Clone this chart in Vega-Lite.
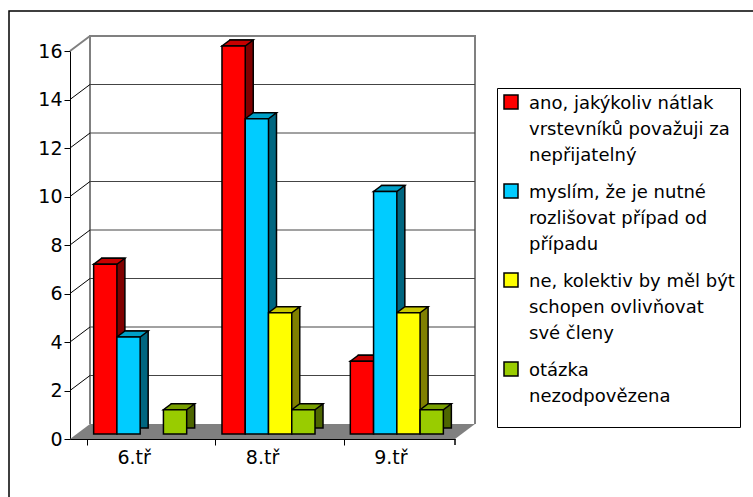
{
  "$schema": "https://vega.github.io/schema/vega-lite/v6.json",
  "width": 405,
  "height": 388,
  "autosize": {"type": "none"},
  "padding": {"left": 70, "top": 51, "right": 278, "bottom": 58},
  "background": "white",
  "config": {
    "view": {"stroke": null},
    "font": "DejaVu Sans",
    "axisY": {"domainColor": "black", "domainWidth": 1, "tickColor": "black", "tickSize": 6, "labelFont": "DejaVu Sans", "labelFontSize": 19, "labelColor": "black", "labelPadding": 2, "grid": false, "title": null, "values": [0, 2, 4, 6, 8, 10, 12, 14, 16]},
    "axisX": {"domainColor": "black", "domainWidth": 1, "tickColor": "black", "tickSize": 6, "labelFont": "DejaVu Sans", "labelFontSize": 19, "labelColor": "black", "labelPadding": 3, "grid": false, "title": null, "labelAngle": 0, "bandPosition": 0}
  },
  "datasets": {
    "bars": [
      {"trida": "6.tř", "odpoved": "ano, jakýkoliv nátlak vrstevníků považuji za nepřijatelný", "pocet": 7},
      {"trida": "6.tř", "odpoved": "myslím, že je nutné rozlišovat případ od případu", "pocet": 4},
      {"trida": "6.tř", "odpoved": "ne, kolektiv by měl být schopen ovlivňovat své členy", "pocet": 0},
      {"trida": "6.tř", "odpoved": "otázka nezodpovězena", "pocet": 1},
      {"trida": "8.tř", "odpoved": "ano, jakýkoliv nátlak vrstevníků považuji za nepřijatelný", "pocet": 16},
      {"trida": "8.tř", "odpoved": "myslím, že je nutné rozlišovat případ od případu", "pocet": 13},
      {"trida": "8.tř", "odpoved": "ne, kolektiv by měl být schopen ovlivňovat své členy", "pocet": 5},
      {"trida": "8.tř", "odpoved": "otázka nezodpovězena", "pocet": 1},
      {"trida": "9.tř", "odpoved": "ano, jakýkoliv nátlak vrstevníků považuji za nepřijatelný", "pocet": 3},
      {"trida": "9.tř", "odpoved": "myslím, že je nutné rozlišovat případ od případu", "pocet": 10},
      {"trida": "9.tř", "odpoved": "ne, kolektiv by měl být schopen ovlivňovat své členy", "pocet": 5},
      {"trida": "9.tř", "odpoved": "otázka nezodpovězena", "pocet": 1}
    ],
    "ticks": [{"v": 2}, {"v": 4}, {"v": 6}, {"v": 8}, {"v": 10}, {"v": 12}, {"v": 14}],
    "one": [{"k": 1}]
  },
  "layer": [
    {
      "data": {"name": "one"},
      "mark": {"type": "point", "shape": "M-202.5,194L182.5,194L202.5,179L-182.5,179Z", "size": 4, "filled": true, "fill": "#808080", "strokeWidth": 0, "opacity": 1},
      "encoding": {}
    },
    {
      "data": {"name": "one"},
      "mark": {"type": "point", "shape": "M-182.5,179L-182.5,-209L202.5,-209L202.5,179M-202.5,-194L-182.5,-209", "size": 4, "filled": false, "color": "#808080", "strokeWidth": 2, "opacity": 1},
      "encoding": {}
    },
    {
      "data": {"name": "ticks"},
      "mark": {"type": "point", "shape": "M-182.5,-15L202.5,-15", "size": 4, "filled": false, "color": "#444444", "strokeWidth": 1, "opacity": 1},
      "encoding": {"y": {"field": "v", "type": "quantitative", "scale": {"domain": [0, 16], "nice": false, "zero": true}}}
    },
    {
      "data": {"name": "ticks"},
      "mark": {"type": "point", "shape": "M-202.5,0L-182.5,-15", "size": 4, "filled": false, "color": "black", "strokeWidth": 1, "opacity": 1},
      "encoding": {"y": {"field": "v", "type": "quantitative"}}
    },
    {
      "data": {"name": "one"},
      "mark": {"type": "point", "shape": "M-263.5,252L-263.5,-234L480.5,-234M182.5,194L182.5,200", "size": 4, "filled": false, "color": "black", "strokeWidth": 1.5, "opacity": 1},
      "encoding": {}
    },
    {
      "data": {"name": "bars"},
      "transform": [{"filter": "datum.pocet > 0"}],
      "mark": {"type": "bar", "stroke": "black", "strokeWidth": 1.5, "yOffset": -11, "y2Offset": -11},
      "encoding": {
        "x": {"field": "trida", "type": "nominal", "scale": {"type": "band", "range": [0, 385], "paddingInner": 0.275, "paddingOuter": 0.1375}},
        "xOffset": {"field": "odpoved", "type": "nominal", "scale": {"type": "band", "domain": ["ano, jakýkoliv nátlak vrstevníků považuji za nepřijatelný", "myslím, že je nutné rozlišovat případ od případu", "ne, kolektiv by měl být schopen ovlivňovat své členy", "otázka nezodpovězena"], "range": [14, 107.04], "paddingInner": 0, "paddingOuter": 0}},
        "y": {"field": "pocet", "type": "quantitative"},
        "color": {"field": "odpoved", "type": "nominal", "legend": null, "scale": {"domain": ["ano, jakýkoliv nátlak vrstevníků považuji za nepřijatelný", "myslím, že je nutné rozlišovat případ od případu", "ne, kolektiv by měl být schopen ovlivňovat své členy", "otázka nezodpovězena"], "range": ["#800000", "#006680", "#808000", "#4D6600"]}}
      }
    },
    {
      "data": {"name": "bars"},
      "transform": [{"filter": "datum.pocet > 0"}],
      "mark": {"type": "point", "shape": "M-11.6,0L11.6,0L19.6,-6L-3.6,-6Z", "size": 4, "filled": true, "stroke": "black", "strokeWidth": 1.5, "opacity": 1, "yOffset": -5},
      "encoding": {
        "x": {"field": "trida", "type": "nominal"},
        "xOffset": {"field": "odpoved", "type": "nominal", "scale": {"type": "band", "domain": ["ano, jakýkoliv nátlak vrstevníků považuji za nepřijatelný", "myslím, že je nutné rozlišovat případ od případu", "ne, kolektiv by měl být schopen ovlivňovat své členy", "otázka nezodpovězena"], "range": [6, 99.04], "paddingInner": 0, "paddingOuter": 0}},
        "y": {"field": "pocet", "type": "quantitative"},
        "color": {"field": "odpoved", "type": "nominal", "legend": null, "scale": {"domain": ["ano, jakýkoliv nátlak vrstevníků považuji za nepřijatelný", "myslím, že je nutné rozlišovat případ od případu", "ne, kolektiv by měl být schopen ovlivňovat své členy", "otázka nezodpovězena"], "range": ["#C80000", "#00A0C8", "#C8C800", "#789F00"]}}
      }
    },
    {
      "data": {"name": "bars"},
      "transform": [{"filter": "datum.pocet > 0"}],
      "mark": {"type": "bar", "stroke": "black", "strokeWidth": 1.5, "yOffset": -5, "y2Offset": -5},
      "encoding": {
        "x": {"field": "trida", "type": "nominal"},
        "xOffset": {"field": "odpoved", "type": "nominal", "scale": {"type": "band", "domain": ["ano, jakýkoliv nátlak vrstevníků považuji za nepřijatelný", "myslím, že je nutné rozlišovat případ od případu", "ne, kolektiv by měl být schopen ovlivňovat své členy", "otázka nezodpovězena"], "range": [6, 99.04], "paddingInner": 0, "paddingOuter": 0}},
        "y": {"field": "pocet", "type": "quantitative"},
        "color": {"field": "odpoved", "type": "nominal",
          "scale": {"domain": ["ano, jakýkoliv nátlak vrstevníků považuji za nepřijatelný", "myslím, že je nutné rozlišovat případ od případu", "ne, kolektiv by měl být schopen ovlivňovat své členy", "otázka nezodpovězena"], "range": ["#FF0000", "#00CCFF", "#FFFF00", "#99CC00"]},
          "legend": {
            "orient": "none", "legendX": 427, "legendY": 37, "title": " ", "titleOrient": "bottom", "titleFontSize": 8, "titlePadding": 8,
            "labelExpr": "indexof(datum.label,'ano')==0 ? ['ano, jakýkoliv nátlak','vrstevníků považuji za','nepřijatelný'] : indexof(datum.label,'myslím')==0 ? ['myslím, že je nutné','rozlišovat případ od','případu'] : indexof(datum.label,'ne,')==0 ? ['ne, kolektiv by měl být','schopen ovlivňovat','své členy'] : ['otázka','nezodpovězena']",
            "labelFont": "DejaVu Sans", "labelFontSize": 18, "labelColor": "black", "labelLimit": 230, "labelOffset": 9,
            "labelBaseline": "alphabetic",
            "symbolType": "square", "symbolSize": 196, "symbolStrokeColor": "black", "symbolStrokeWidth": 1.5, "symbolOpacity": 1,
            "rowPadding": 16, "padding": 5, "strokeColor": "black", "fillColor": "white",
            "encode": {"labels": {"update": {"lineHeight": {"value": 26}, "dy": {"value": 7}}}}
          }
        }
      }
    }
  ],
  "resolve": {"scale": {"color": "independent", "xOffset": "independent"}}
}
